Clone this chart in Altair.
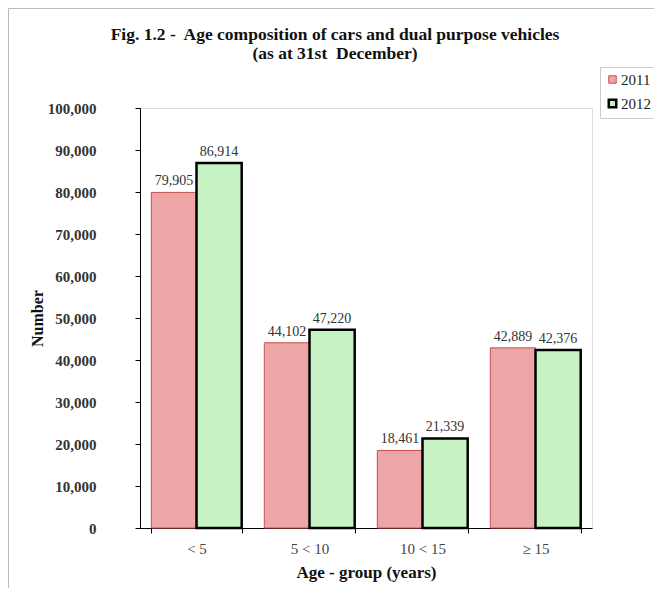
import altair as alt
import pandas as pd

groups = ["< 5", "5 < 10", "10 < 15", "≥ 15"]
years = ["2011", "2012"]
v2011 = [79905, 44102, 18461, 42889]
v2012 = [86914, 47220, 21339, 42376]
yticks = [0, 10000, 20000, 30000, 40000, 50000, 60000, 70000, 80000, 90000, 100000]

rows = []
for g, a, b in zip(groups, v2011, v2012):
    rows.append({"group": g, "year": "2011", "value": a})
    rows.append({"group": g, "year": "2012", "value": b})
df = pd.DataFrame(rows)

FONT = "Liberation Serif"

x = alt.X("group:N", sort=groups,
          scale=alt.Scale(paddingInner=0.2, paddingOuter=0.1),
          axis=alt.Axis(title="Age - group (years)", labelAngle=0, tickBand="extent",
                        tickSize=5, labelFontSize=15, labelColor="#444", labelFont=FONT,
                        labelPadding=8, titleFont=FONT, titleFontSize=17, titleFontWeight="bold",
                        titleColor="#111", titlePadding=8, domainColor="#000", tickColor="#000"))
y = alt.Y("value:Q", scale=alt.Scale(domain=[0, 100000]),
          axis=alt.Axis(title="Number", values=yticks,
                        labelExpr="format(datum.value, ',')",
                        grid=False, tickSize=5, labelPadding=39, labelFontSize=15,
                        labelFontWeight="bold", labelColor="#333", labelFont=FONT,
                        titleFont=FONT, titleFontSize=16, titleFontWeight="bold",
                        titleColor="#111", titlePadding=2, domainColor="#000", tickColor="#000"))
xo = alt.XOffset("year:N", sort=years, scale=alt.Scale(paddingInner=0, paddingOuter=0))

legend = alt.Legend(title=None, orient="none", legendX=460, legendY=-41,
                    strokeColor="#ccc", fillColor="white", padding=5, rowPadding=6,
                    labelFont=FONT, labelFontSize=15, labelColor="#222", labelOffset=1,
                    symbolType="square", symbolSize=56)

bars = alt.Chart(df).mark_bar().encode(
    x=x, xOffset=xo, y=y,
    fill=alt.Fill("year:N", sort=years,
                  scale=alt.Scale(domain=years, range=["#eca6a6", "#c6f2c4"]), legend=legend),
    stroke=alt.Stroke("year:N", sort=years,
                      scale=alt.Scale(domain=years, range=["#c85050", "#000000"]), legend=legend),
    strokeWidth=alt.StrokeWidth("year:O", sort=years,
                                scale=alt.Scale(domain=years, range=[1, 2.5]), legend=legend),
)

labels = alt.Chart(df).mark_text(baseline="bottom", dy=-4, font=FONT, fontSize=14,
                                 color="#333").encode(
    x=x, xOffset=xo, y=y,
    text=alt.Text("value:Q", format=","),
)

border = alt.Chart(alt.Data(values=[{"a": 1}])).mark_rect(
    fill=None, stroke="#bbb", strokeWidth=1).encode(
    x=alt.value(-131.5), x2=alt.value(800), y=alt.value(-99.5), y2=alt.value(800))

chart = alt.layer(border, bars, labels).properties(
    width=452, height=420,
    title=alt.TitleParams(
        text=["Fig. 1.2 -\u00a0 Age composition of cars and dual purpose vehicles",
              "(as at 31st\u00a0 December)"],
        font=FONT, fontSize=17.5, fontWeight="bold", color="#111", anchor="middle",
        frame="group", dx=-31, offset=-54, lineHeight=19),
    autosize=alt.AutoSizeParams(type="none"),
    padding={"left": 132, "top": 100, "right": 62, "bottom": 60},
).configure_view(stroke=None).configure(background="white")

chart.save("out.html", embed_options={"renderer": "svg", "actions": False})
